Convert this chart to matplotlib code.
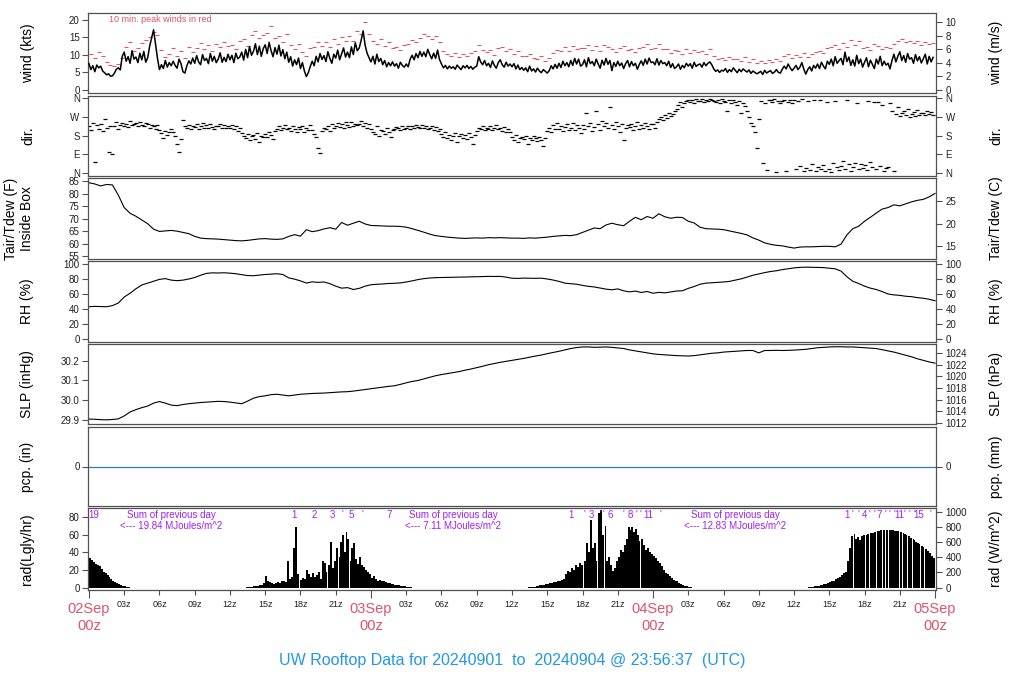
import numpy as np
import matplotlib
matplotlib.use("Agg")
import matplotlib.pyplot as plt
from matplotlib.transforms import blended_transform_factory

plt.rcParams.update({
    "font.family": ["Liberation Sans", "DejaVu Sans"],
    "font.size": 7,
    "axes.linewidth": 0.9,
    "axes.edgecolor": "#505050",
    "xtick.color": "#505050",
    "ytick.color": "#505050",
    "xtick.labelcolor": "#202020",
    "ytick.labelcolor": "#202020",
})

RED, PURPLE, BLUE, PCPBLUE = "#DF536B", "#A020F0", "#2297E6", "#3278C8"

# ---- data (hours since 02Sep 00z) ----
# wind speed (kts), 10-min samples, one row per hour
wind_kts = [
    7.5, 5.8, 6.9, 5.2, 7.1, 6.3,   6.8, 5.4, 4.9, 4.3, 4.6, 3.9,   4.0, 4.8, 5.9, 6.3, 5.7, 9.6,
    10.8, 8.2, 9.5, 7.6, 11.2, 8.8,   9.4, 7.8, 10.5, 8.6, 11.0, 7.9,   9.2, 12.5, 14.8, 17.2, 13.1, 9.0,
    5.8, 7.2, 6.1, 8.4, 6.5, 7.8,   6.9, 8.2, 7.0, 6.2, 8.8, 7.5,   5.2, 4.8, 6.9, 8.3, 7.4, 9.1,
    7.6, 9.8, 8.0, 7.2, 10.1, 8.4,   9.0, 7.5, 10.4, 8.2, 9.6, 7.8,   8.8, 10.6, 7.9, 9.3, 8.1, 10.2,
    8.6, 9.9, 7.8, 10.5, 8.9, 9.4,   10.8, 8.5, 11.6, 9.2, 12.4, 9.9,   11.0, 13.2, 10.1, 12.5, 9.6, 11.8,
    12.9, 10.4, 13.6, 11.2, 9.5, 12.1,   10.2, 12.8, 9.7, 11.5, 8.9, 10.8,   7.9, 9.5, 6.8, 8.6, 7.2, 9.1,
    6.1, 7.8, 5.4, 3.8, 4.9, 6.7,   8.2, 6.9, 9.6, 8.0, 10.4, 8.7,   9.8, 8.1, 10.9, 9.0, 7.6, 10.2,
    9.1, 11.4, 8.6, 10.3, 12.0, 9.4,   10.8, 9.2, 12.3, 10.1, 13.5, 11.2,   12.0, 14.2, 16.9, 12.8, 10.5, 9.2,
    8.0, 9.6, 7.4, 10.2, 8.1, 9.0,   7.2, 8.4, 6.6, 7.8, 6.9, 8.0,   6.8, 7.5, 6.2, 7.9, 7.0, 6.5,
    7.4, 6.6, 8.8, 9.9, 8.6, 10.4,   9.2, 11.0, 9.6, 10.8, 9.5, 11.6,   10.1, 8.9, 10.5, 9.0, 11.4, 8.7,
    7.4, 6.3, 7.0, 6.0, 6.8, 6.2,   6.6, 5.9, 7.1, 6.4, 5.8, 6.9,   6.3, 7.0, 6.1, 6.7, 5.9, 6.5,
    6.8, 9.5, 8.0, 7.2, 8.4, 6.9,   7.6, 6.4, 8.3, 7.0, 6.2, 7.8,   8.6, 7.2, 6.5, 7.9, 6.8, 7.4,
    6.6, 7.5, 6.0, 7.1, 5.8, 6.4,   5.6, 6.3, 5.2, 6.8, 5.4, 6.0,   5.1, 6.2, 5.4, 4.9, 5.8, 5.3,
    4.8, 5.5, 6.9, 6.0, 7.3, 6.2,   7.6, 6.4, 8.2, 6.9, 7.8, 6.6,   8.4, 7.0, 9.0, 7.4, 8.8, 6.8,
    7.2, 8.6, 6.6, 9.2, 7.5, 8.1,   6.9, 8.8, 7.4, 6.2, 8.5, 7.1,   9.0, 7.3, 8.4, 5.5, 7.8, 6.7,
    8.2, 6.9, 7.7, 6.1, 7.5, 8.4,   6.6, 8.1, 6.9, 7.6, 5.9, 7.3,   8.3, 7.0, 8.8, 7.4, 9.1, 7.8,
    8.0, 7.2, 8.9, 7.1, 8.4, 7.5,   7.8, 6.9, 8.2, 6.4, 7.5, 6.1,   6.6, 7.4, 5.9, 7.0, 6.3, 7.6,
    6.8, 7.5, 6.2, 7.9, 6.7, 7.2,   7.4, 6.5, 7.8, 6.9, 7.6, 8.0,   7.2, 6.0, 5.3, 5.7, 5.0, 5.6,
    5.4, 6.1, 5.0, 5.8, 5.2, 6.3,   5.6, 4.9, 5.9, 5.2, 6.0, 5.5,   5.1, 5.7, 4.7, 5.4, 5.0, 4.6,
    4.9, 5.3, 4.4, 5.6, 4.8, 5.2,   5.5, 4.7, 5.1, 5.8, 5.0, 4.8,   5.9, 6.8, 6.0, 7.4, 6.3, 5.5,
    6.2, 7.0, 5.8, 6.5, 7.8, 5.9,   4.5, 5.8, 6.6, 5.4, 7.0, 6.2,   7.4, 6.1, 7.9, 6.8, 6.0, 8.2,
    7.3, 8.8, 6.9, 9.5, 7.6, 8.4,   9.0, 7.2, 10.8, 8.1, 9.4, 7.0,   8.6, 6.8, 9.9, 7.5, 8.8, 6.5,
    7.9, 9.2, 6.6, 8.5, 7.3, 6.1,   8.8, 7.4, 9.6, 6.9, 8.2, 7.1,   7.6, 6.0, 8.4, 10.2, 8.0, 9.6,
    10.9, 8.4, 9.8, 7.9, 10.4, 8.8,   9.2, 7.6, 10.1, 8.3, 9.5, 7.7,   8.9, 10.2, 7.4, 9.6, 8.0, 9.3,
]
# 10-min peak winds (kts), 20-min samples
peak_kts = [
    10.4, 9.1, 10.8,  9.6, 8.0, 7.1,  6.8, 7.4, 9.0,  12.2, 13.6, 11.0,  12.0, 13.4, 14.2,  15.0, 16.6, 15.8,
    11.5, 9.4, 10.2,  12.0, 9.8, 11.0,  9.2, 12.4, 10.8,  12.0, 13.5, 11.6,  12.8, 11.2, 13.2,  12.2, 13.6, 12.5,
    12.9, 11.8, 13.9,  14.5, 12.6, 15.6,  16.8, 14.9, 15.8,  16.2, 18.2, 14.8,  15.4, 13.8, 16.0,  12.8, 11.6, 13.2,
    10.8, 9.6, 11.9,  12.4, 13.6, 12.6,  13.8, 12.4, 14.5,  13.2, 15.0, 13.9,  15.4, 14.0, 16.8,  15.9, 19.4, 16.0,
    13.9, 13.0, 14.6,  12.6, 13.8, 12.0,  12.2, 11.4, 12.8,  13.2, 14.2, 13.6,  14.8, 15.9, 15.4,  14.6, 15.4, 13.8,
    11.2, 10.4, 9.8,  10.6, 9.5, 10.2,  9.7, 10.5, 11.2,  12.9, 11.4, 10.8,  11.5, 10.1, 12.0,  12.2, 11.0, 11.6,
    10.4, 11.1, 9.8,  9.6, 10.4, 9.2,  8.8, 9.6, 8.4,  9.0, 10.6, 11.4,  11.2, 12.4, 11.0,  12.6, 11.6, 12.1,
    11.9, 12.9, 11.5,  12.5, 11.2, 12.8,  12.2, 11.6, 10.9,  11.9, 12.6, 11.3,  11.6, 10.8, 12.1,  12.4, 13.0, 11.8,
    12.0, 13.2, 11.7,  11.6, 10.6, 11.4,  11.1, 10.2, 11.8,  10.6, 11.4, 10.8,  11.1, 10.4, 11.6,  9.8, 8.7, 9.2,
    8.5, 9.3, 8.8,  8.9, 8.2, 9.4,  8.1, 8.8, 7.8,  8.4, 7.6, 8.6,  7.9, 8.7, 8.2,  9.6, 10.2, 9.0,
    10.0, 9.3, 10.6,  9.5, 10.3, 10.8,  11.2, 10.5, 12.0,  12.2, 12.9, 11.7,  13.4, 12.3, 14.4,  12.9, 13.9, 12.1,
    12.4, 11.3, 13.0,  12.6, 11.6, 12.2,  12.1, 13.2, 14.1,  14.6, 13.6, 14.0,  13.3, 14.0, 12.8,  13.8, 13.0, 13.5,
]
# wind direction (deg), 10-min samples, one row per hour
wind_dir = [
    225, 210, 240, 55, 230, 215,   235, 205, 260, 220, 100, 228,   90, 225, 245, 215, 232, 240,
    228, 238, 222, 250, 230, 236,   242, 226, 248, 234, 225, 240,   236, 220, 232, 228, 215, 230,
    210, 195, 170, 205, 185, 200,   215, 198, 180, 140, 100, 165,   255, 225, 218, 232, 212, 228,
    222, 235, 215, 228, 240, 220,   230, 218, 236, 224, 212, 228,   225, 238, 220, 232, 216, 226,
    220, 232, 214, 226, 205, 218,   195, 180, 170, 190, 160, 178,   185, 165, 195, 150, 180, 172,
    190, 175, 200, 182, 165, 205,   212, 225, 208, 220, 232, 215,   218, 205, 226, 212, 200, 222,
    215, 228, 198, 220, 206, 232,   210, 190, 175, 120, 95, 205,   220, 212, 228, 205, 235, 218,
    228, 240, 222, 236, 218, 245,   232, 222, 248, 226, 238, 230,   236, 250, 225, 242, 220, 238,
    215, 200, 190, 225, 180, 210,   205, 188, 220, 198, 175, 210,   212, 222, 218, 210, 225, 215,
    220, 228, 214, 226, 218, 230,   224, 216, 230, 220, 228, 212,   218, 226, 210, 222, 205, 215,
    190, 175, 200, 168, 185, 160,   180, 195, 150, 178, 188, 170,   185, 165, 192, 176, 140, 182,
    205, 220, 212, 225, 210, 218,   215, 225, 208, 220, 230, 212,   218, 205, 222, 198, 214, 200,
    175, 160, 182, 150, 168, 172,   165, 178, 140, 170, 158, 180,   168, 155, 176, 162, 130, 170,
    205, 220, 198, 230, 212, 240,   215, 228, 205, 222, 235, 210,   220, 240, 210, 232, 218, 195,
    230, 215, 290, 225, 240, 205,   222, 300, 235, 210, 250, 228,   240, 220, 320, 232, 215, 245,
    225, 200, 238, 160, 218, 230,   222, 235, 210, 228, 245, 215,   230, 218, 240, 225, 212, 236,
    235, 220, 245, 260, 270, 255,   280, 265, 290, 275, 285, 300,   310, 330, 345, 320, 340, 350,
    352, 345, 355, 340, 358, 348,   350, 356, 342, 354, 346, 358,   355, 348, 345, 352, 340, 356,
    350, 345, 300, 355, 338, 352,   345, 330, 350, 290, 340, 325,   300, 270, 240, 225, 200, 120,
    260, 350, 50, 340, 15, 355,   352, 345, 356, 5, 348, 340,   350, 355, 10, 345, 352, 340,
    354, 20, 348, 35, 356, 12,   25, 350, 15, 45, 352, 8,   30, 355, 18, 40, 10, 345,
    22, 5, 48, 350, 28, 15,   35, 60, 20, 355, 42, 12,   30, 50, 340, 18, 45, 25,
    40, 15, 350, 55, 28, 345,   20, 345, 35, 330, 12, 25,   30, 340, 300, 10, 285, 320,
    275, 290, 300, 280, 310, 270,   285, 295, 275, 305, 280, 290,   290, 280, 300, 285, 295, 282,
]
# inside-box air temperature (F), 30-min samples
temp_f = [
    84.5, 84.0, 83.2, 83.8, 83.6, 79.5, 74.5, 72.2, 71.0, 69.5, 68.0, 65.8, 64.9, 65.1, 65.3, 65.0,
    64.5, 64.0, 62.9, 62.2, 62.0, 61.9, 61.8, 61.6, 61.4, 61.2, 61.1, 61.3, 61.6, 61.9, 62.0, 61.8,
    61.7, 61.9, 62.9, 63.6, 63.0, 65.6, 64.8, 65.2, 65.9, 66.4, 65.8, 68.5, 67.4, 68.2, 69.0, 67.9,
    67.3, 67.2, 67.1, 67.0, 67.0, 66.9, 66.6, 66.0, 65.3, 64.6, 63.8, 63.2, 62.9, 62.6, 62.4, 62.2,
    62.1, 62.2, 62.3, 62.2, 62.4, 62.3, 62.4, 62.3, 62.2, 62.2, 62.1, 62.3, 62.2, 62.4, 62.6, 62.9,
    63.1, 63.3, 63.2, 63.6, 64.5, 65.4, 66.3, 66.0, 67.5, 68.2, 67.6, 67.2, 69.0, 70.6, 69.6, 70.9,
    70.2, 72.0, 70.8, 70.2, 70.6, 70.5, 69.0, 68.3, 66.6, 66.0, 65.9, 65.8, 65.6, 65.1, 64.6, 64.1,
    63.5, 62.3, 61.4, 60.3, 59.7, 59.3, 59.1, 58.6, 58.2, 58.6, 58.7, 58.7, 58.8, 58.9, 58.9, 58.7,
    59.8, 63.5, 66.0, 67.0, 69.0, 70.6, 72.3, 73.9, 74.5, 75.6, 75.2, 76.0, 76.8, 77.4, 77.8, 78.8,
    80.2,
]
# relative humidity (%), 30-min samples
rh = [
    43.0, 43.5, 43.2, 43.0, 44.5, 48.0, 56.0, 61.0, 67.0, 72.0, 74.5, 77.0, 79.5, 80.5, 78.5, 77.8,
    78.5, 80.0, 82.0, 85.0, 87.5, 88.2, 88.0, 88.3, 87.8, 87.0, 85.8, 84.6, 84.4, 85.2, 86.0, 86.5,
    87.0, 86.0, 81.5, 79.8, 77.5, 74.6, 76.2, 75.5, 76.0, 73.8, 70.5, 67.8, 68.5, 66.0, 67.5, 70.5,
    72.3, 73.0, 73.4, 74.0, 74.3, 74.8, 76.0, 77.5, 79.2, 80.5, 81.3, 81.8, 82.0, 82.3, 82.4, 82.5,
    82.6, 82.9, 83.0, 83.3, 83.5, 83.4, 83.5, 82.5, 81.0, 80.8, 81.2, 81.0, 80.9, 81.1, 80.0, 78.6,
    76.8, 74.5, 73.8, 73.0, 71.5, 70.2, 69.4, 68.0, 66.5, 65.6, 66.8, 64.2, 62.8, 63.9, 62.0, 63.4,
    61.0, 62.2, 61.5, 62.8, 64.0, 64.3, 67.5, 70.0, 73.0, 74.5, 75.0, 75.4, 76.0, 76.8, 78.5, 80.2,
    82.5, 85.0, 86.8, 88.5, 90.0, 91.0, 92.5, 93.6, 94.8, 95.5, 95.8, 95.6, 95.5, 95.2, 94.4, 93.6,
    90.5, 83.0, 77.0, 74.0, 70.5, 67.8, 66.0, 63.2, 60.0, 58.8, 58.2, 57.0, 56.4, 55.2, 54.3, 53.0,
    51.0,
]
# sea-level pressure (inHg), 30-min samples
slp_inhg = [
    29.904, 29.903, 29.901, 29.900, 29.902, 29.905, 29.920, 29.940, 29.952, 29.962, 29.970, 29.985,
    29.993, 29.985, 29.975, 29.972, 29.978, 29.982, 29.985, 29.988, 29.990, 29.992, 29.994, 29.993,
    29.990, 29.986, 29.982, 29.995, 30.010, 30.018, 30.022, 30.028, 30.030, 30.026, 30.022, 30.026,
    30.030, 30.032, 30.034, 30.035, 30.036, 30.038, 30.040, 30.042, 30.043, 30.046, 30.050, 30.054,
    30.058, 30.062, 30.066, 30.070, 30.073, 30.080, 30.088, 30.095, 30.100, 30.108, 30.116, 30.124,
    30.130, 30.135, 30.140, 30.145, 30.152, 30.158, 30.165, 30.172, 30.180, 30.186, 30.192, 30.197,
    30.202, 30.207, 30.212, 30.218, 30.224, 30.229, 30.236, 30.242, 30.248, 30.255, 30.262, 30.267,
    30.270, 30.270, 30.268, 30.269, 30.270, 30.268, 30.265, 30.262, 30.255, 30.250, 30.245, 30.240,
    30.235, 30.232, 30.230, 30.228, 30.226, 30.225, 30.224, 30.226, 30.230, 30.234, 30.238, 30.240,
    30.244, 30.246, 30.248, 30.250, 30.252, 30.252, 30.240, 30.252, 30.252, 30.253, 30.252, 30.253,
    30.254, 30.256, 30.258, 30.262, 30.266, 30.268, 30.270, 30.271, 30.271, 30.270, 30.270, 30.268,
    30.266, 30.264, 30.262, 30.256, 30.250, 30.244, 30.236, 30.228, 30.220, 30.210, 30.202, 30.194,
    30.188,
]
# precipitation (in), 6-hourly
pcp_in = [0.0, 0.0, 0.0, 0.0, 0.0, 0.0, 0.0, 0.0, 0.0, 0.0, 0.0, 0.0, 0.0]
pcp_hours = [0, 6, 12, 18, 24, 30, 36, 42, 48, 54, 60, 66, 72]

# solar radiation (Langley/hr), 10-min samples for each daylight stretch
rad_start = [0.0, 13.0, 37.0, 61.0]
rad_day1 = [33, 31, 29, 27, 26, 24, 21, 18, 16, 14, 12, 10, 8, 6, 5, 4, 3, 2, 1.5, 1, 0.5]
rad_day2 = [
    0, 0, 0.5, 0.8, 1.0, 1.2,   1.5, 1.8, 2.2, 2.6, 3.5, 5.0,   13, 8, 6, 5, 4.5, 5,
    6, 5.5, 7, 8, 6, 30,   10, 12, 45, 68, 15, 10,   9, 11, 10, 20, 15, 12,
    16, 12, 14, 18, 10, 30,   28, 18, 25, 52, 22, 30,   45, 35, 52, 60, 40, 63,
    55, 30, 45, 50, 32, 27,   35, 25, 23, 20, 18, 15,   11, 13, 10, 8, 9, 7.5,
    7, 6, 5.5, 5, 4.6, 4,   3.5, 3, 2.5, 2, 1.8, 1.5,   1, 0.6, 0.3, 0, 0, 0,
]
rad_day3 = [
    0, 0, 0.3, 0.5, 0.8, 1,   1.5, 2, 2.5, 3, 3.5, 4,   4.5, 5, 5.5, 6, 6.5, 7,
    8, 9, 10, 15, 19, 18,   22, 20, 25, 23, 28, 26,   24, 30, 50, 40, 76, 45,
    50, 30, 84, 88, 60, 70,   30, 35, 25, 19, 22, 30,   35, 42, 40, 48, 55, 68,
    65, 68, 63, 66, 60, 53,   55, 48, 42, 45, 40, 38,   36, 34, 30, 28, 24, 20,
    17, 15, 13, 11, 9, 8,   7, 5, 4, 3, 2, 1.5,   1, 0.5, 0, 0, 0, 0,
]
rad_day4 = [
    0, 0.3, 0.6, 1, 1.3, 1.6,   2, 2.5, 3, 3.8, 4.5, 5.2,   6, 7, 8, 9.5, 11, 12.5,
    14, 16, 18, 30, 45, 58,   61, 55, 57, 54, 58, 59,   60, 60.5, 61, 61.5, 62, 62.5,
    64.2, 64.5, 64.8, 65, 65, 65,   65, 65, 64.8, 64.5, 64, 63.5,   63, 62, 61, 59.5, 58, 56.5,
    55, 53.5, 52, 50.5, 49, 47.5,   46, 44, 41.5, 39, 36, 33.5,
]
# missing radiation samples (hours)
rad_gaps = [17.9, 20.3, 21.2, 22.1, 42.0, 43.2, 43.8, 46.9, 65.05, 66.05, 66.4, 67.0, 67.5,
            67.75, 68.0, 68.9, 69.2, 69.6, 70.0, 70.7, 71.1]
# cumulative MJ/m^2 markers along the top of the radiation panel
cum_hours = [0.45, 17.45, 19.15, 20.68, 21.53, 22.3, 23.23, 25.56,
             41.02, 42.13, 42.78, 43.55, 43.74, 44.34, 45.45, 46.04, 46.55, 46.9, 47.57, 48.6,
             64.49, 64.95, 65.45, 65.96, 66.45, 66.8, 67.28, 67.75, 68.15, 68.55, 68.98,
             69.4, 69.8, 70.2, 70.6, 71.6]
cum_labels = ["19", "1", "2", "3", "'", "5", "'", "7",
              "1", "'", "3", "'", "'", "6", "'", "8", "'", "'", "11", "'",
              "1", "'", "'", "4", "'", "'", "7", "'", "'", "'", "11",
              "'", "'", "'", "15", "'"]
day_sum_hours = [7, 31, 55]
day_sum_mj = ["19.84", "7.11", "12.83"]

day_labels = ["02Sep", "03Sep", "04Sep", "05Sep"]
day_hours = [0, 24, 48, 72]

# ---- figure ----
W, H = 1024, 700
fig = plt.figure(figsize=(W / 100, H / 100), dpi=100)
rows = [(13, 93), (96, 176), (178, 259), (261, 342), (344, 424), (427, 506), (508, 590)]
axes = [fig.add_axes([88 / W, 1 - b / H, 848 / W, (b - t) / H]) for t, b in rows]
a_wind, a_dir, a_tmp, a_rh, a_slp, a_pcp, a_rad = axes

for ax in axes:
    ax.set_xlim(-0.08, 72.08)
    ax.tick_params(axis="x", bottom=False, labelbottom=False)
    ax.tick_params(axis="y", direction="out", length=4, width=0.8, pad=2, labelsize=7)


def right_axis(ax, lo, hi, ticks, labels=None):
    tw = ax.twinx()
    tw.set_ylim(lo, hi)
    tw.set_yticks(ticks)
    if labels is not None:
        tw.set_yticklabels(labels)
    for s in tw.spines.values():
        s.set_visible(False)
    tw.tick_params(axis="y", direction="out", length=4, width=0.8, pad=3, labelsize=7)
    return tw


def side_label(ax, x, txt):
    bb = ax.get_position()
    fig.text(x / W, (bb.y0 + bb.y1) / 2, txt, rotation=90, ha="center", va="center", fontsize=10)


# wind
tw = np.arange(len(wind_kts)) / 6
tp = np.arange(len(peak_kts)) / 3 + 1 / 6
a_wind.plot(tp, peak_kts, ls="none", marker="_", ms=3.5, mew=0.8, color=RED, zorder=2)
a_wind.plot(tw, wind_kts, color="black", lw=1.1, zorder=3)
a_wind.set_ylim(-0.9, 22)
a_wind.set_yticks([0, 5, 10, 15, 20])
right_axis(a_wind, -0.9 / 1.944, 22 / 1.944, [0, 2, 4, 6, 8, 10])
fig.text(160 / W, 1 - 19.5 / H, "10 min. peak winds in red", color=RED, fontsize=6.5,
         ha="center", va="center")

# direction
td = np.arange(len(wind_dir)) / 6
a_dir.plot(td, wind_dir, ls="none", marker="_", ms=3.0, mew=0.9, color="black")
a_dir.set_ylim(-14, 372)
a_dir.set_yticks([0, 90, 180, 270, 360])
a_dir.set_yticklabels(["N", "E", "S", "W", "N"])
right_axis(a_dir, -14, 372, [0, 90, 180, 270, 360], ["N", "E", "S", "W", "N"])

# temperature
tt = np.arange(len(temp_f)) / 2
a_tmp.plot(tt, temp_f, color="black", lw=0.8)
a_tmp.set_ylim(53.8, 86.4)
a_tmp.set_yticks([55, 60, 65, 70, 75, 80, 85])
right_axis(a_tmp, (53.8 - 32) * 5 / 9, (86.4 - 32) * 5 / 9, [15, 20, 25])

# relative humidity
a_rh.plot(np.arange(len(rh)) / 2, rh, color="black", lw=0.8)
a_rh.set_ylim(-4, 104)
a_rh.set_yticks([0, 20, 40, 60, 80, 100])
right_axis(a_rh, -4, 104, [0, 20, 40, 60, 80, 100])

# pressure
a_slp.plot(np.arange(len(slp_inhg)) / 2, slp_inhg, color="black", lw=0.8)
a_slp.set_ylim(29.879, 30.285)
a_slp.set_yticks([29.9, 30.0, 30.1, 30.2])
a_slp.set_yticklabels(["29.9", "30.0", "30.1", "30.2"])
right_axis(a_slp, 29.879 * 33.8639, 30.285 * 33.8639, [1012, 1014, 1016, 1018, 1020, 1022, 1024])

# precipitation
a_pcp.plot(pcp_hours, pcp_in, color=PCPBLUE, lw=0.9)
a_pcp.set_ylim(-0.1, 0.1)
a_pcp.set_yticks([0])
right_axis(a_pcp, -2.54, 2.54, [0])

# radiation
for start, vals in zip(rad_start, [rad_day1, rad_day2, rad_day3, rad_day4]):
    t = start + np.arange(len(vals) + 1) / 6
    a_rad.stairs(vals, t, baseline=0, fill=True, color="black", lw=0)
a_rad.vlines(rad_gaps, 0, 89, color="white", lw=0.7)
a_rad.set_ylim(-2.7, 90)
a_rad.set_yticks([0, 20, 40, 60, 80])
right_axis(a_rad, -2.7 * 11.63, 90 * 11.63, [0, 200, 400, 600, 800, 1000])
for h, lbl in zip(cum_hours, cum_labels):
    a_rad.text(h, 82, lbl, color=PURPLE, fontsize=7, ha="center", va="center")
for h, mj in zip(day_sum_hours, day_sum_mj):
    a_rad.text(h, 82, "Sum of previous day", color=PURPLE, fontsize=7, ha="center", va="center")
    a_rad.text(h, 69.3, "<--- " + mj + " MJoules/m^2", color=PURPLE, fontsize=7,
               ha="center", va="center")

# time axis
hour_ticks = [h for h in range(3, 72, 3) if h % 24]
a_rad.set_xticks(hour_ticks)
a_rad.set_xticklabels(["%02dz" % (h % 24) for h in hour_ticks])
a_rad.set_xticks(day_hours, minor=True)
a_rad.tick_params(axis="x", which="major", bottom=True, labelbottom=True, length=3.5,
                  width=0.8, pad=4, labelsize=6.5)
a_rad.tick_params(axis="x", which="minor", bottom=True, length=6, width=0.8)
tr = blended_transform_factory(a_rad.transData, fig.transFigure)
for h, lbl in zip(day_hours, day_labels):
    a_rad.text(h, 1 - 609 / H, lbl, transform=tr, color=RED, fontsize=10.5, ha="center", va="center")
    a_rad.text(h, 1 - 626 / H, "00z", transform=tr, color=RED, fontsize=10.5, ha="center", va="center")

# panel labels
side_label(a_wind, 28, "wind (kts)")
side_label(a_dir, 28, "dir.")
side_label(a_tmp, 11, "Tair/Tdew (F)")
side_label(a_tmp, 27, "Inside Box")
side_label(a_rh, 27, "RH (%)")
side_label(a_slp, 27, "SLP (inHg)")
side_label(a_pcp, 27, "pcp. (in)")
side_label(a_rad, 27, "rad(Lgly/hr)")
side_label(a_wind, 996, "wind (m/s)")
side_label(a_dir, 996, "dir.")
side_label(a_tmp, 996, "Tair/Tdew (C)")
side_label(a_rh, 996, "RH (%)")
side_label(a_slp, 996, "SLP (hPa)")
side_label(a_pcp, 996, "pcp. (mm)")
side_label(a_rad, 996, "rad (W/m^2)")

fig.text(512 / W, 1 - 660 / H, "UW Rooftop Data for 20240901  to  20240904 @ 23:56:37  (UTC)",
         color=BLUE, fontsize=11.5, ha="center", va="center")

fig.savefig("out.png", dpi=100)
